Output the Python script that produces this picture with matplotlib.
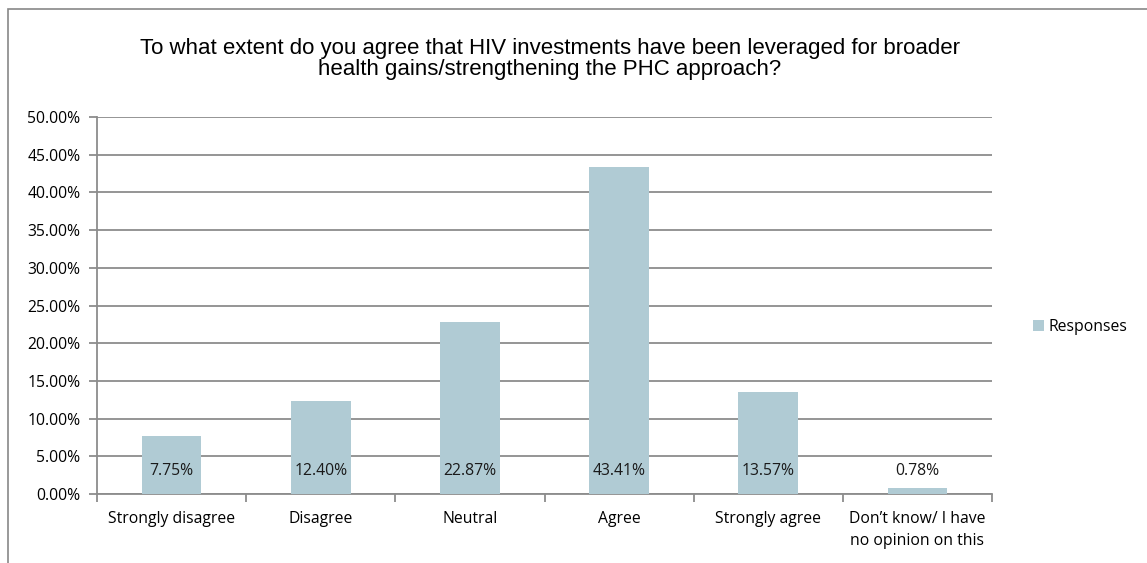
import numpy as np
import matplotlib.pyplot as plt
from matplotlib.patches import Rectangle
from matplotlib.ticker import FuncFormatter, MultipleLocator

categories = ['Strongly disagree', 'Disagree', 'Neutral', 'Agree',
              'Strongly agree', 'Don\u2019t know/ I have\nno opinion on this']
responses = [7.75, 12.40, 22.87, 43.41, 13.57, 0.78]

bar_color = '#b0cbd4'
grid_color = '#8c8c8c'
label_font = ['Open Sans', 'DejaVu Sans']
fs = 11.3

fig = plt.figure(figsize=(11.47, 5.63), dpi=100)
ax = fig.add_axes([97 / 1147, 69 / 563, 895 / 1147, 377 / 563])

x = np.arange(len(categories))
bars = ax.bar(x, responses, width=0.4, color=bar_color, label='Responses', zorder=3)

# value labels sit just above the baseline, inside the bar
for xi, v in zip(x, responses):
    ax.annotate(f'{v:.2f}%', (xi, 0), xytext=(0, 16.5), textcoords='offset points',
                ha='center', va='center', fontsize=fs, family=label_font,
                color='#1a1a1a', zorder=4)

ax.set_xlim(-0.5, len(categories) - 0.5)
ax.set_ylim(0, 50)
ax.yaxis.set_major_locator(MultipleLocator(5))
ax.yaxis.set_major_formatter(FuncFormatter(lambda v, p: f'{v:.2f}%'))
ax.grid(axis='y', color=grid_color, linewidth=1.3, zorder=0)
ax.set_axisbelow(True)

# category labels between boundary ticks
ax.set_xticks(np.arange(len(categories) + 1) - 0.5)
ax.set_xticklabels([])
ax.set_xticks(x, minor=True)
ax.set_xticklabels(categories, minor=True, fontsize=fs, family=label_font,
                   linespacing=1.45)
ax.tick_params(axis='x', which='minor', length=0, pad=12.5)
ax.tick_params(axis='x', which='major', length=6, width=1.3, color=grid_color)
ax.tick_params(axis='y', length=6, width=1.3, color=grid_color, labelsize=fs, pad=6)
for lbl in ax.get_yticklabels():
    lbl.set_family(label_font)

for side in ['top', 'right']:
    ax.spines[side].set_visible(False)
for side in ['left', 'bottom']:
    ax.spines[side].set_color(grid_color)
    ax.spines[side].set_linewidth(1.3)

fig.text(550 / 1147, 1 - 59 / 563,
         'To what extent do you agree that HIV investments have been leveraged for broader\n'
         'health gains/strengthening the PHC approach?',
         ha='center', va='center', fontsize=16, family='Liberation Sans',
         linespacing=1.0)

fig.legend(handles=[bars], loc='center left', bbox_to_anchor=(1019 / 1147, 1 - 327 / 563),
           frameon=False, prop={'family': label_font, 'size': fs},
           handlelength=0.7, handleheight=0.7, handletextpad=0.3)

# outer chart frame, cut off at the right and bottom edges
fig.patches.append(Rectangle((8 / 1147, -0.1), 1.2, 1 - 9 / 563 + 0.1,
                             transform=fig.transFigure, fill=False,
                             edgecolor='#878787', linewidth=1.2))

fig.savefig('out.png', dpi=100)
